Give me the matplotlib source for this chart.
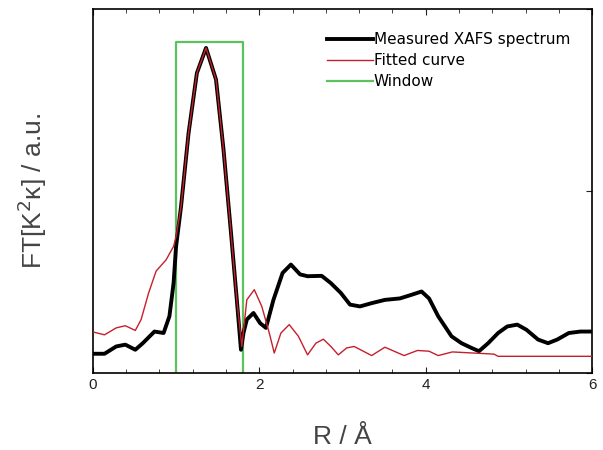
import matplotlib
matplotlib.use('Agg')
import matplotlib.pyplot as plt
from matplotlib.ticker import MultipleLocator, NullFormatter

# Measured XAFS spectrum (R in Angstrom, FT magnitude in arbitrary units)
r_meas = [0.0, 0.14, 0.28, 0.39, 0.51, 0.60, 0.74, 0.85, 0.92, 0.97, 1.00, 1.06,
          1.15, 1.25, 1.36, 1.48, 1.57, 1.66, 1.73, 1.78, 1.81, 1.85, 1.93, 2.01,
          2.08, 2.17, 2.28, 2.38, 2.49, 2.58, 2.75, 2.86, 2.98, 3.09, 3.21, 3.35,
          3.51, 3.69, 3.83, 3.95, 4.04, 4.15, 4.31, 4.43, 4.55, 4.64, 4.75, 4.87,
          4.98, 5.10, 5.21, 5.35, 5.47, 5.58, 5.72, 5.86, 6.0]
ft_meas = [0.053, 0.053, 0.073, 0.078, 0.064, 0.082, 0.114, 0.110, 0.156, 0.247,
           0.348, 0.458, 0.659, 0.824, 0.893, 0.806, 0.614, 0.385, 0.201, 0.064,
           0.110, 0.147, 0.165, 0.137, 0.124, 0.201, 0.275, 0.298, 0.271, 0.266,
           0.267, 0.247, 0.220, 0.188, 0.183, 0.192, 0.201, 0.205, 0.215, 0.224,
           0.205, 0.156, 0.101, 0.082, 0.069, 0.060, 0.082, 0.110, 0.128, 0.133,
           0.119, 0.092, 0.082, 0.092, 0.110, 0.114, 0.114]

# Fitted curve
r_fit = [0.0, 0.14, 0.28, 0.39, 0.51, 0.58, 0.67, 0.76, 0.88, 0.97, 1.00, 1.06,
         1.15, 1.25, 1.36, 1.48, 1.57, 1.66, 1.73, 1.79, 1.85, 1.94, 2.03, 2.12,
         2.18, 2.26, 2.36, 2.47, 2.58, 2.68, 2.77, 2.86, 2.95, 3.05, 3.14, 3.25,
         3.35, 3.51, 3.62, 3.74, 3.90, 4.04, 4.15, 4.32, 4.82, 4.87, 6.0]
ft_fit = [0.113, 0.105, 0.124, 0.130, 0.117, 0.147, 0.220, 0.280, 0.311, 0.348,
          0.375, 0.458, 0.659, 0.824, 0.893, 0.806, 0.614, 0.385, 0.201, 0.073,
          0.201, 0.229, 0.183, 0.110, 0.055, 0.110, 0.133, 0.101, 0.050, 0.082,
          0.093, 0.073, 0.050, 0.069, 0.073, 0.060, 0.048, 0.071, 0.060, 0.048,
          0.062, 0.060, 0.048, 0.058, 0.052, 0.046, 0.046]

# Fitting window
win_r = [1.0, 1.0, 1.81, 1.81]
win_ft = [0.0, 0.908, 0.908, 0.0]

plt.rcParams['font.family'] = ['Liberation Sans', 'DejaVu Sans']

fig = plt.figure(figsize=(6.03, 4.5), dpi=100)
ax = fig.add_axes([0.154, 0.171, 0.828, 0.809])

ax.plot(r_meas, ft_meas, color='black', linewidth=2.8, label='Measured XAFS spectrum', zorder=3)
ax.plot(r_fit, ft_fit, color='#c4202c', linewidth=1.0, label='Fitted curve', zorder=4)
ax.plot(win_r, win_ft, color='#5cc35c', linewidth=1.6, label='Window', zorder=2)

ax.set_xlim(0, 6)
ax.set_ylim(0, 1)
ax.xaxis.set_major_locator(MultipleLocator(2))
ax.xaxis.set_minor_locator(MultipleLocator(0.4))
ax.yaxis.set_major_locator(MultipleLocator(0.5))
ax.yaxis.set_major_formatter(NullFormatter())
ax.tick_params(direction='in', which='both', top=True, right=True, left=False,
               labelsize=11, colors='#222222')
ax.tick_params(which='major', length=4)
ax.tick_params(which='minor', length=3)
for s in ax.spines.values():
    s.set_linewidth(1.2)

ax.set_xlabel('R / Å', fontsize=19, color='#444444', labelpad=24)
ax.set_ylabel('FT[K$^2$κ] / a.u.', fontsize=19, color='#444444', labelpad=28)

leg = ax.legend(loc='upper right', bbox_to_anchor=(0.968, 0.953), frameon=False,
                handlelength=3.0, handletextpad=0.05, labelspacing=0.4, borderaxespad=0,
                prop={'family': 'DejaVu Sans', 'size': 11})

fig.savefig('out.png', dpi=100)
